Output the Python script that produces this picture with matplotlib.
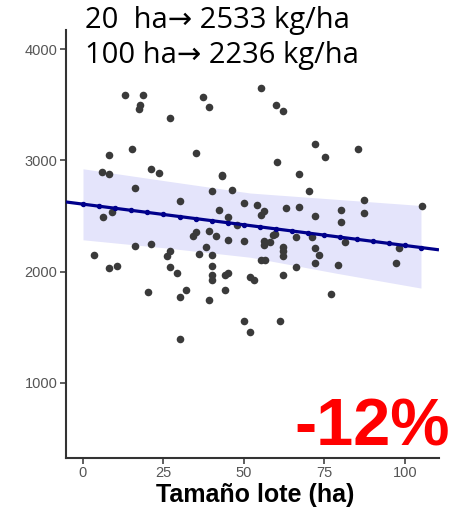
import numpy as np
import matplotlib
matplotlib.use('Agg')
import matplotlib.pyplot as plt

# lot size (ha) and yield (kg/ha)
lote_ha = [13.1, 18.5, 17.8, 17.4, 27.1, 15.1, 8.0, 6.0, 8.1, 21.0,
           23.6, 16.1, 30.2, 37.2, 39.1, 55.3, 60.1, 62.2, 35.1, 60.2,
           43.2, 67.2, 40.2, 46.2, 72.2, 75.2, 85.3, 70.3, 87.2, 105.3,
           6.1, 9.1, 16.1, 21.0, 3.5, 27.1, 26.0, 8.1, 10.5, 27.1,
           29.1, 20.1, 32.0, 30.2, 30.2, 34.3, 35.1, 39.2, 41.2, 38.1,
           36.1, 40.2, 40.2, 40.2, 40.2, 44.2, 45.2, 44.1, 39.2, 45.2,
           42.1, 45.2, 43.1, 48.0, 50.1, 54.1, 56.1, 55.2, 63.2, 67.2,
           59.8, 59.1, 50.1, 56.1, 58.2, 56.3, 62.2, 62.2, 62.2, 66.1,
           55.4, 56.4, 52.0, 53.2, 62.2, 66.1, 50.1, 51.9, 61.2, 72.2,
           80.2, 80.2, 87.3, 71.1, 81.3, 98.2, 72.1, 73.2, 72.2, 79.1,
           97.3, 77.2]
rinde = [3592, 3592, 3495, 3464, 3383, 3104, 3051, 2898, 2875, 2920,
         2886, 2748, 2637, 3569, 3479, 3652, 3498, 3448, 3069, 2986,
         2862, 2882, 2727, 2732, 3149, 3028, 3102, 2721, 2646, 2590,
         2491, 2539, 2227, 2247, 2152, 2188, 2137, 2036, 2051, 2040,
         1991, 1820, 1834, 1769, 1398, 2317, 2354, 2368, 2317, 2220,
         2161, 2152, 2054, 1971, 1928, 1966, 1984, 1832, 1744, 2283,
         2557, 2494, 2865, 2416, 2619, 2601, 2545, 2512, 2577, 2585,
         2343, 2329, 2276, 2275, 2263, 2238, 2224, 2184, 2142, 2316,
         2105, 2107, 1952, 1925, 1966, 2038, 1558, 1454, 1558, 2500,
         2554, 2451, 2531, 2314, 2271, 2213, 2209, 2151, 2074, 2056,
         2078, 1804]

# fitted values quoted in the title
fit_ha = [20, 100]
fit_kg = [2533, 2236]

# confidence band edges
band_x = [0, 26, 52, 79, 105]
band_hi = [2925, 2815, 2707, 2650, 2595]
band_lo = [2287, 2213, 2130, 1985, 1853]

xticks = [0, 25, 50, 75, 100]
yticks = [1000, 2000, 3000, 4000]

fig = plt.figure(figsize=(4.71, 5.15), dpi=100)
ax = fig.add_axes([0.140, 0.1107, 0.792, 0.831])
ax.set_xlim(-5.3, 110.6)
ax.set_ylim(326, 4172)

ax.fill_between(band_x, band_lo, band_hi, color='#e4e4fb', lw=0, zorder=1)
ax.scatter(lote_ha, rinde, s=30, color='#3a3a3a', lw=0, zorder=2)

slope, icpt = np.polyfit(fit_ha, fit_kg, 1)
xs = np.array(ax.get_xlim())
ax.plot(xs, icpt + slope * xs, color='#00008b', lw=2.3, zorder=3,
        solid_capstyle='butt')
mk = np.arange(0, 106, 5)
ax.plot(mk, icpt + slope * mk, 'o', color='#00008b', ms=2.9, zorder=3)
ax.set_xlim(-5.3, 110.6)

for s in ['top', 'right']:
    ax.spines[s].set_visible(False)
for s in ['left', 'bottom']:
    ax.spines[s].set_color('#333333')
    ax.spines[s].set_linewidth(1.5)
ax.set_xticks(xticks)
ax.set_yticks(yticks)
ax.tick_params(length=4, width=1.1, color='#333333', labelcolor='#555555',
               labelsize=10, pad=2)
for lab in ax.get_xticklabels() + ax.get_yticklabels():
    lab.set_family('Liberation Sans')
    lab.set_fontsize(10.5)

fig.text(0.180, 1 - 28 / 515, '20  ha\u2192 2533 kg/ha', fontsize=21,
         family=['Open Sans', 'DejaVu Sans'], va='baseline')
fig.text(0.180, 1 - 63 / 515, '100 ha\u2192 2236 kg/ha', fontsize=21,
         family=['Open Sans', 'DejaVu Sans'], va='baseline')
fig.text(0.955, 1 - 445 / 515, '-12%', color='#ff0000', fontsize=48,
         fontweight='bold', family='Liberation Sans', ha='right',
         va='baseline')
fig.text(0.541, 1 - 502 / 515, 'Tamaño lote (ha)', fontsize=18,
         fontweight='bold', family='Liberation Sans', ha='center',
         va='baseline')

fig.savefig('out.png', dpi=100)
